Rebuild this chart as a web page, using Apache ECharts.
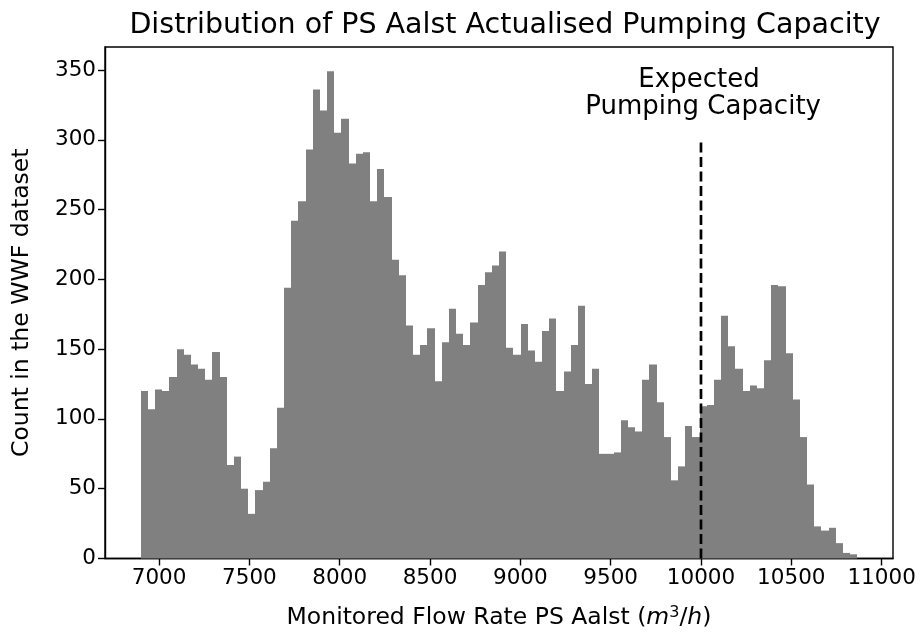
<!DOCTYPE html>
<html lang="en">
<head>
    <meta charset="UTF-8">
    <title>PS Aalst pumping capacity histogram</title>
    <script src="https://cdn.jsdelivr.net/npm/echarts@6.0.0/dist/echarts.min.js"></script>
    <style>
        html, body { margin: 0; padding: 0; background: #fff; }
        #hist { width: 924px; height: 635px; }
    </style>
</head>
<body>
<div id="hist"></div>
<script type="text/javascript">
    // histogram: 100 bins between 6899 and 10865 m3/h
    var binStart = 6899;
    var binWidth = 39.66;
    var counts = [
        120, 107, 121, 120, 130, 150, 146, 139, 136, 128,
        148, 130, 67, 73, 50, 32, 49, 55, 79, 108,
        194, 242, 256, 293, 336, 321, 349, 305, 315, 283,
        290, 291, 256, 279, 259, 214, 203, 167, 146, 153,
        165, 127, 155, 179, 161, 153, 169, 196, 205, 210,
        220, 151, 146, 168, 149, 141, 163, 172, 120, 134,
        153, 181, 125, 136, 75, 75, 76, 99, 94, 91,
        128, 139, 112, 87, 56, 66, 95, 87, 109, 110,
        128, 174, 152, 136, 120, 124, 122, 142, 196, 195,
        147, 114, 87, 53, 23, 20, 22, 11, 4, 3
    ];
    var xTicks = [7000, 7500, 8000, 8500, 9000, 9500, 10000, 10500, 11000];
    var yTicks = [0, 50, 100, 150, 200, 250, 300, 350];
    var expectedCapacity = 10000;
    var expectedLineTop = 300;
    var labelPos = [10012, 333];   // centre of the annotation text

    var fontName = 'DejaVu Sans';

    var bins = counts.map(function (c, i) {
        return [binStart + i * binWidth, binStart + (i + 1) * binWidth, c];
    });

    function renderBar(params, api) {
        var p0 = api.coord([api.value(0), 0]);
        var p1 = api.coord([api.value(1), api.value(2)]);
        // snap to whole pixels so neighbouring bars join without seams
        var x0 = Math.round(p0[0]), x1 = Math.round(p1[0]);
        return {
            type: 'rect',
            shape: { x: x0, y: p1[1], width: x1 - x0, height: p0[1] - p1[1] },
            style: { fill: '#808080' }
        };
    }

    var chart = echarts.init(document.getElementById('hist'));

    var option = {
        backgroundColor: '#fff',
        animation: false,
        title: {
            text: 'Distribution of PS Aalst Actualised Pumping Capacity',
            left: 500,
            textAlign: 'center',
            top: 6,
            textStyle: { fontFamily: fontName, fontSize: 28.5, fontWeight: 'normal', color: '#000' }
        },
        grid: {
            left: 105, right: 31, top: 47, bottom: 76,
            show: true, borderColor: '#000', borderWidth: 1.4
        },
        xAxis: {
            type: 'value',
            min: 6700.7,
            max: 11063,
            name: 'Monitored Flow Rate PS Aalst ({i|m}{sup|3}/{i|h})',
            nameLocation: 'middle',
            nameGap: 46,
            nameTextStyle: {
                fontFamily: fontName, fontSize: 23.5, color: '#000', verticalAlign: 'top',
                rich: {
                    i: { fontFamily: fontName, fontSize: 23.5, fontStyle: 'italic', color: '#000' },
                    sup: { fontFamily: fontName, fontSize: 16, color: '#000', padding: [0, 0, 11, 0] }
                }
            },
            axisLine: { show: true, lineStyle: { color: '#000', width: 1.4 } },
            axisTick: { show: true, length: 7, lineStyle: { color: '#000', width: 1.4 }, customValues: xTicks },
            axisLabel: {
                color: '#000', fontFamily: fontName, fontSize: 21.5, margin: 9, customValues: xTicks,
                formatter: function (v) { return String(v); }
            },
            splitLine: { show: false }
        },
        yAxis: {
            type: 'value',
            min: 0,
            max: 366.45,
            name: 'Count in the WWF dataset',
            nameLocation: 'middle',
            nameGap: 71,
            nameTextStyle: { fontFamily: fontName, fontSize: 23.5, color: '#000' },
            axisLine: { show: true, lineStyle: { color: '#000', width: 1.4 } },
            axisTick: { show: true, length: 7, lineStyle: { color: '#000', width: 1.4 }, customValues: yTicks },
            axisLabel: {
                color: '#000', fontFamily: fontName, fontSize: 21.5, margin: 9, customValues: yTicks,
                formatter: function (v) { return String(v); }
            },
            splitLine: { show: false }
        },
        series: [
            {
                type: 'custom',
                renderItem: renderBar,
                data: bins,
                encode: { x: [0, 1], y: 2 },
                z: 2
            },
            {
                // expected pumping capacity marker
                type: 'line',
                data: [[expectedCapacity, 0], [expectedCapacity, expectedLineTop]],
                symbol: 'none',
                lineStyle: { color: '#000', width: 2.7, type: [10, 4.5] },
                z: 5
            },
            {
                type: 'scatter',
                data: [labelPos],
                symbolSize: 0,
                itemStyle: { opacity: 1 },
                label: {
                    show: true,
                    position: 'inside',
                    formatter: 'Expected \nPumping Capacity',
                    align: 'center',
                    fontFamily: fontName,
                    fontSize: 26,
                    lineHeight: 27,
                    color: '#000'
                },
                z: 6
            }
        ]
    };

    chart.setOption(option);
</script>
</body>
</html>
